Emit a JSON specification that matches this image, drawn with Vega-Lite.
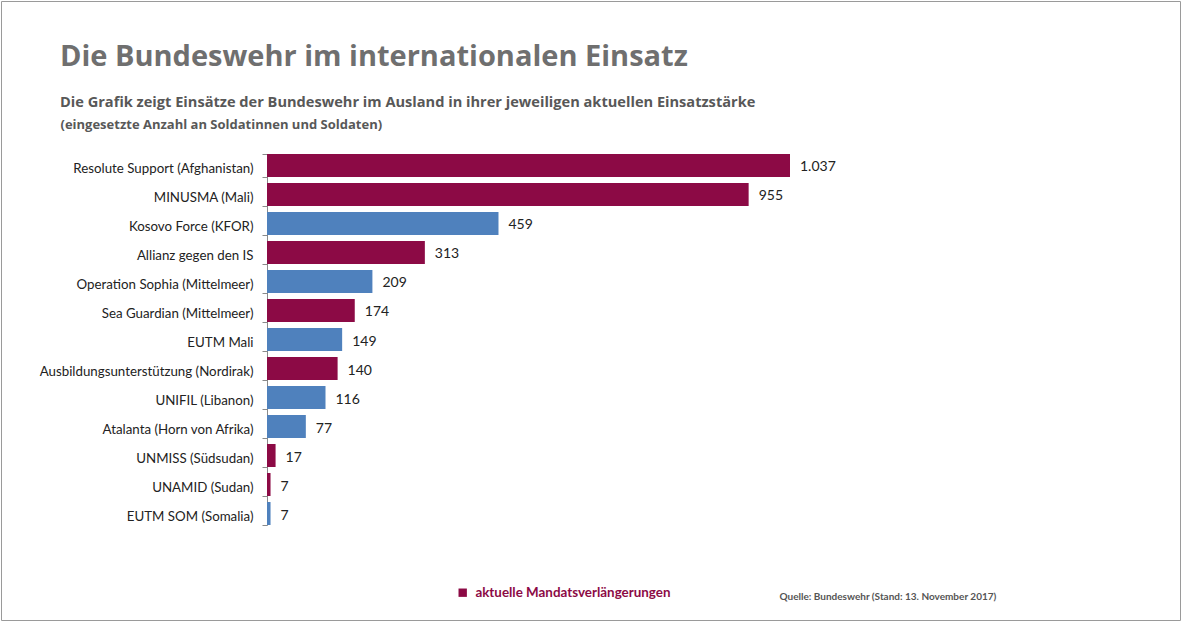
{
  "$schema": "https://vega.github.io/schema/vega-lite/v6.json",
  "autosize": "none",
  "width": 1179,
  "height": 619,
  "padding": {"left": 1, "top": 1, "right": 2, "bottom": 2},
  "background": "white",
  "title": {
    "text": "Die Bundeswehr im internationalen Einsatz",
    "subtitle": "Die Grafik zeigt Einsätze der Bundeswehr im Ausland in ihrer jeweiligen aktuellen Einsatzstärke",
    "anchor": "start",
    "frame": "group",
    "orient": "top",
    "offset": -116,
    "dx": 59,
    "font": "Open Sans",
    "fontSize": 29,
    "fontWeight": "bold",
    "color": "#6f6f6f",
    "subtitleFont": "Open Sans",
    "subtitleFontSize": 14.6,
    "subtitleFontWeight": "bold",
    "subtitleColor": "#585858",
    "subtitlePadding": 23
  },
  "config": {
    "view": {"stroke": "#9a9a9a", "strokeWidth": 1},
    "locale": {"number": {"decimal": ",", "thousands": ".", "grouping": [3], "currency": ["", " €"]}}
  },
  "data": {
    "values": [
      {"einsatz": "Resolute Support (Afghanistan)", "soldaten": 1037, "typ": "aktuelle Mandatsverlängerungen"},
      {"einsatz": "MINUSMA (Mali)", "soldaten": 955, "typ": "aktuelle Mandatsverlängerungen"},
      {"einsatz": "Kosovo Force (KFOR)", "soldaten": 459, "typ": "sonstige"},
      {"einsatz": "Allianz gegen den IS", "soldaten": 313, "typ": "aktuelle Mandatsverlängerungen"},
      {"einsatz": "Operation Sophia (Mittelmeer)", "soldaten": 209, "typ": "sonstige"},
      {"einsatz": "Sea Guardian (Mittelmeer)", "soldaten": 174, "typ": "aktuelle Mandatsverlängerungen"},
      {"einsatz": "EUTM Mali", "soldaten": 149, "typ": "sonstige"},
      {"einsatz": "Ausbildungsunterstützung (Nordirak)", "soldaten": 140, "typ": "aktuelle Mandatsverlängerungen"},
      {"einsatz": "UNIFIL (Libanon)", "soldaten": 116, "typ": "sonstige"},
      {"einsatz": "Atalanta (Horn von Afrika)", "soldaten": 77, "typ": "sonstige"},
      {"einsatz": "UNMISS (Südsudan)", "soldaten": 17, "typ": "aktuelle Mandatsverlängerungen"},
      {"einsatz": "UNAMID (Sudan)", "soldaten": 7, "typ": "aktuelle Mandatsverlängerungen"},
      {"einsatz": "EUTM SOM (Somalia)", "soldaten": 7, "typ": "sonstige"}
    ]
  },
  "encoding": {
    "y": {
      "field": "einsatz",
      "type": "nominal",
      "sort": null,
      "scale": {"range": [153, 524], "paddingInner": 0.207, "paddingOuter": 0},
      "axis": {
        "orient": "left",
        "offset": -266,
        "domainColor": "#8a8a8a",
        "tickColor": "#8a8a8a",
        "tickSize": 5,
        "tickBand": "extent",
        "tickOffset": 3,
        "labelOffset": 3,
        "labelPadding": 9,
        "labelFont": "Lato",
        "labelFontSize": 13.3,
        "labelColor": "#222222",
        "labelLimit": 400,
        "title": "Quelle: Bundeswehr (Stand: 13. November 2017)",
        "titleAngle": 0,
        "titleAlign": "left",
        "titleBaseline": "alphabetic",
        "titleX": 512,
        "titleY": 598,
        "titleFont": "Lato",
        "titleFontSize": 10,
        "titleFontWeight": "bold",
        "titleColor": "#555555"
      }
    },
    "x": {
      "field": "soldaten",
      "type": "quantitative",
      "scale": {"domain": [0, 1037], "range": [266, 789]},
      "axis": {
        "orient": "top",
        "domain": false,
        "ticks": false,
        "labels": false,
        "grid": false,
        "title": "(eingesetzte Anzahl an Soldatinnen und Soldaten)",
        "titleAlign": "left",
        "titleAnchor": null,
        "titleBaseline": "alphabetic",
        "titleX": 59,
        "titleY": 127,
        "titleFont": "Open Sans",
        "titleFontSize": 13,
        "titleFontWeight": "bold",
        "titleColor": "#585858"
      }
    }
  },
  "layer": [
    {
      "mark": {"type": "bar"},
      "encoding": {
        "color": {
          "field": "typ",
          "type": "nominal",
          "scale": {"domain": ["aktuelle Mandatsverlängerungen", "sonstige"], "range": ["#8c0a45", "#4f81bd"]},
          "legend": {
            "values": ["aktuelle Mandatsverlängerungen"],
            "title": null,
            "orient": "none",
            "legendX": 455,
            "legendY": 585,
            "symbolType": "square",
            "symbolSize": 70,
            "symbolStrokeWidth": 0,
            "labelFont": "Lato",
            "labelFontSize": 13.4,
            "labelFontWeight": "bold",
            "labelColor": "#8c0a45",
            "labelOffset": 6,
            "labelLimit": 400
          }
        }
      }
    },
    {
      "mark": {"type": "text", "align": "left", "baseline": "middle", "dx": 10, "dy": 2, "font": "Lato", "fontSize": 14, "color": "#222222"},
      "encoding": {
        "text": {"field": "soldaten", "type": "quantitative", "format": ",d"}
      }
    }
  ]
}
